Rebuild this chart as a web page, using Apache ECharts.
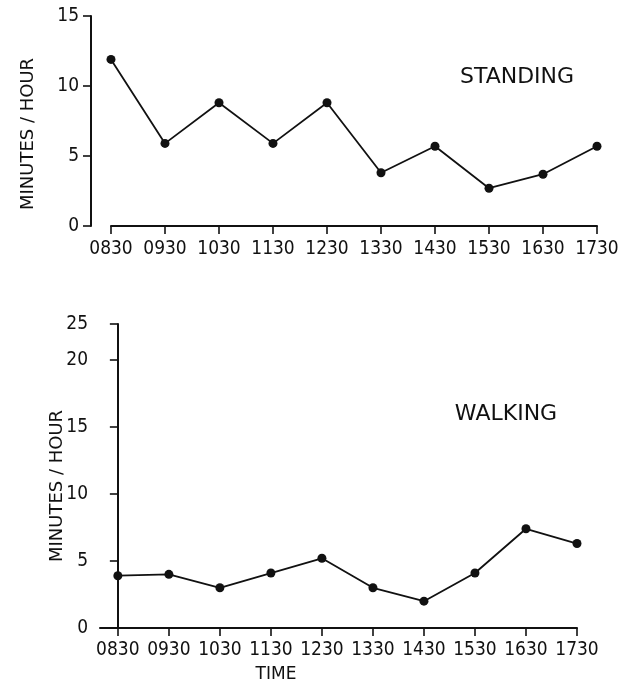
<!DOCTYPE html>
<html>
<head>
<meta charset="utf-8">
<script src="https://cdn.jsdelivr.net/npm/echarts@6/dist/echarts.min.js"></script>
<style>
html,body{margin:0;padding:0;background:#fff;}
#chart{width:633px;height:684px;}
</style>
</head>
<body>
<div id="chart"></div>
<script>
// ---- data ----
var times = ['0830','0930','1030','1130','1230','1330','1430','1530','1630','1730'];
var standing = [11.9, 5.9, 8.8, 5.9, 8.8, 3.8, 5.7, 2.7, 3.7, 5.7];
var walking = [3.9, 4.0, 3.0, 4.1, 5.2, 3.0, 2.0, 4.1, 7.4, 6.3];
var standingYTicks = [0, 5, 10, 15];
var walkingYTickLabels = ['0', '5', '10', '15', '20', '25'];
var yTitle = 'MINUTES / HOUR';
var xTitle = 'TIME';
var panelTitles = ['STANDING', 'WALKING'];

// ---- chart ----
var INK = '#111';
var labelFont = "'Liberation Sans Narrow', 'DejaVu Sans Condensed', 'DejaVu Sans', sans-serif";
var titleFont = "'DejaVu Sans', sans-serif";

// walking axis: 25 is drawn compressed at the top in the original
var walkingTop = 22.67;
var walkingTickPos = walkingYTickLabels.map(function (t, i) {
  return i < walkingYTickLabels.length - 1 ? Number(t) : walkingTop;
});

var chart = echarts.init(document.getElementById('chart'), null, {renderer: 'canvas'});
var axisLine = {show: true, lineStyle: {color: INK, width: 2}};
var axisTick = {show: true, length: 8, lineStyle: {color: INK, width: 1.6}};
var tickLabel = {color: INK, fontFamily: labelFont, fontSize: 19};

chart.setOption({
  backgroundColor: '#fff',
  animation: false,
  grid: [
    {left: 111, right: 36, top: 16, height: 210},
    {left: 100, right: 56, top: 324, height: 307}
  ],
  xAxis: [
    {
      gridIndex: 0, type: 'category', data: times, boundaryGap: false,
      axisLine: axisLine, axisTick: axisTick,
      axisLabel: Object.assign({margin: 14, interval: 0}, tickLabel),
      splitLine: {show: false}
    },
    {
      gridIndex: 1, type: 'value', min: -0.35, max: times.length - 1,
      axisLine: axisLine,
      axisTick: Object.assign({customValues: times.map(function (t, i) { return i; })}, axisTick),
      axisLabel: Object.assign({
        margin: 13,
        customValues: times.map(function (t, i) { return i; }),
        formatter: function (v) { return times[Math.round(v)]; }
      }, tickLabel),
      splitLine: {show: false},
      name: xTitle, nameLocation: 'middle', nameGap: 38, nameMoveOverlap: false,
      nameTextStyle: {color: INK, fontFamily: titleFont, fontSize: 17, padding: [0, 125, 0, 0]}
    }
  ],
  yAxis: [
    {
      gridIndex: 0, type: 'value', min: 0, max: 15, interval: 5, offset: 20,
      axisLine: axisLine, axisTick: axisTick,
      axisLabel: Object.assign({margin: 12}, tickLabel),
      splitLine: {show: false},
      name: yTitle, nameLocation: 'middle', nameRotate: 90, nameGap: 54, nameMoveOverlap: false,
      nameTextStyle: {color: INK, fontFamily: titleFont, fontSize: 18, padding: [0, 26, 0, 0]}
    },
    {
      gridIndex: 1, type: 'value', min: 0, max: walkingTop,
      axisLine: axisLine,
      axisTick: Object.assign({customValues: walkingTickPos}, axisTick),
      axisLabel: Object.assign({
        margin: 12,
        customValues: walkingTickPos,
        formatter: function (v) {
          var i = walkingTickPos.indexOf(v);
          return i >= 0 ? walkingYTickLabels[i] : '';
        }
      }, tickLabel),
      splitLine: {show: false},
      name: yTitle, nameLocation: 'middle', nameRotate: 90, nameGap: 34, nameMoveOverlap: false,
      nameTextStyle: {color: INK, fontFamily: titleFont, fontSize: 18, padding: [0, 20, 0, 0]}
    }
  ],
  graphic: [
    {type: 'text', x: 517, y: 77, style: {text: panelTitles[0], fill: INK, font: '22px ' + titleFont, align: 'center', verticalAlign: 'middle'}},
    {type: 'text', x: 506, y: 414, style: {text: panelTitles[1], fill: INK, font: '22px ' + titleFont, align: 'center', verticalAlign: 'middle'}}
  ],
  series: [
    {
      type: 'line', xAxisIndex: 0, yAxisIndex: 0, data: standing,
      symbol: 'circle', symbolSize: 9,
      lineStyle: {color: INK, width: 1.8}, itemStyle: {color: INK}
    },
    {
      type: 'line', xAxisIndex: 1, yAxisIndex: 1,
      data: walking.map(function (v, i) { return [i, v]; }),
      symbol: 'circle', symbolSize: 9,
      lineStyle: {color: INK, width: 1.8}, itemStyle: {color: INK}
    }
  ]
});
</script>
</body>
</html>
